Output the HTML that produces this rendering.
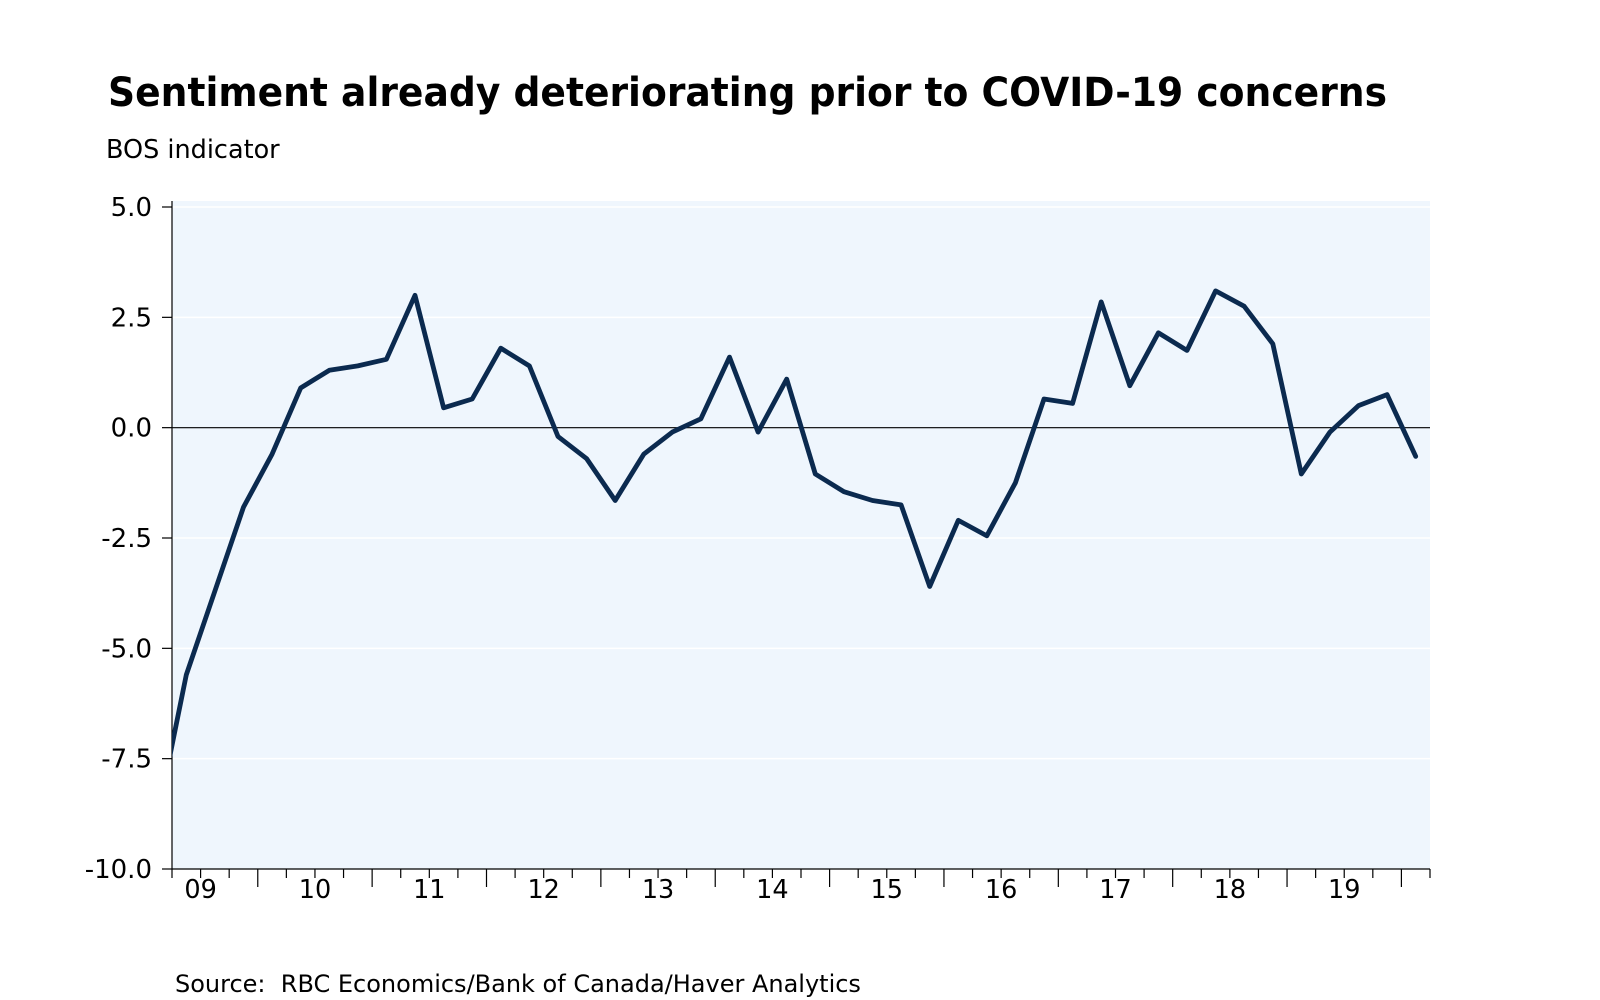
<!DOCTYPE html>
<html><head><meta charset="utf-8"><style>
html,body{margin:0;padding:0;background:#fff;}
svg{display:block;font-family:"DejaVu Sans","Liberation Sans",sans-serif;}
</style></head><body>
<svg id="chart" width="1600" height="1000" viewBox="0 0 1600 1000">
<text x="108" y="106" font-size="40" font-weight="bold" fill="#000" textLength="1279" lengthAdjust="spacingAndGlyphs">Sentiment already deteriorating prior to COVID-19 concerns</text>
<text x="106" y="158" font-size="25.5" fill="#000">BOS indicator</text>
<g id="plot"></g>
<text x="175" y="992" font-size="24" fill="#000" xml:space="preserve" style="white-space:pre">Source:  RBC Economics/Bank of Canada/Haver Analytics</text>
</svg>
<script>
const yTicks=[5,2.5,0,-2.5,-5,-7.5,-10];
const yTickLabels=["5.0","2.5","0.0","-2.5","-5.0","-7.5","-10.0"];
const years=["09","10","11","12","13","14","15","16","17","18","19"];
const bosValues=[-8.8,-5.6,-3.7,-1.8,-0.6,0.9,1.3,1.4,1.55,3.0,0.45,0.65,1.8,1.4,-0.2,-0.7,-1.65,-0.6,-0.1,0.2,1.6,-0.1,1.1,-1.05,-1.45,-1.65,-1.75,-3.6,-2.1,-2.45,-1.25,0.65,0.55,2.85,0.95,2.15,1.75,3.1,2.75,1.9,-1.05,-0.1,0.5,0.75,-0.65];

const NS="http://www.w3.org/2000/svg";
const L=172,R=1430,T=207,B=869;
const startQ=2009.25,endQ=2020.25;
function x(t){return L+(t-startQ)/(endQ-startQ)*(R-L);}
function y(v){return T+(5-v)/15*(B-T);}
function mk(tag,attrs,parent){const e=document.createElementNS(NS,tag);for(const k in attrs)e.setAttribute(k,attrs[k]);parent.appendChild(e);return e;}
const g=document.getElementById('plot');
const bg=mk('rect',{x:L,y:T-6,width:R-L,height:B-T+6,fill:'#eff6fd'},g);


yTicks.forEach((v,i)=>{
  if(v!==-10&&v!==0){const gl=mk('line',{x1:L,x2:R,y1:y(v),y2:y(v),stroke:'#fff','stroke-width':1.5},g);
  
  }
  const tk=mk('line',{x1:L-10,x2:L,y1:y(v),y2:y(v),stroke:'#000','stroke-width':1.2},g);
  
  
  const t=mk('text',{x:L-20,y:y(v)+9,'font-size':26,'text-anchor':'end',fill:'#000'},g);
  t.textContent=yTickLabels[i];
  
  
});
const zl=mk('line',{x1:L,x2:R,y1:y(0),y2:y(0),stroke:'#000','stroke-width':1.2},g);


const ya=mk('line',{x1:L,x2:L,y1:T-6,y2:B,stroke:'#000','stroke-width':1.2},g);


const xa=mk('line',{x1:L,x2:R,y1:B,y2:B,stroke:'#000','stroke-width':1.2},g);


for(let q=startQ;q<=endQ+0.001;q+=0.25){
  const major=Math.abs(q-Math.round(q))<0.01;
  const tk=mk('line',{x1:x(q),x2:x(q),y1:B,y2:B+(major?18:9),stroke:'#000','stroke-width':1.2},g);
  
  
}
years.forEach((lab,i)=>{
  const t=mk('text',{x:x(2009+i+0.5),y:898,'font-size':25.5,'text-anchor':'middle',fill:'#000'},g);
  t.textContent=lab;
  
  
});
const defs=mk('defs',{},g);
const cp=mk('clipPath',{id:'clip'},defs);
mk('rect',{x:L,y:T-10,width:R-L,height:B-T+10},cp);
const pts=bosValues.map((v,i)=>x(2009+i*0.25+0.125).toFixed(1)+','+y(v).toFixed(1)).join(' ');
const line=mk('polyline',{points:pts,fill:'none',stroke:'#0b2a4f','stroke-width':4.8,'stroke-linejoin':'round','stroke-linecap':'round','clip-path':'url(#clip)'},g);


</script>
</body></html>
